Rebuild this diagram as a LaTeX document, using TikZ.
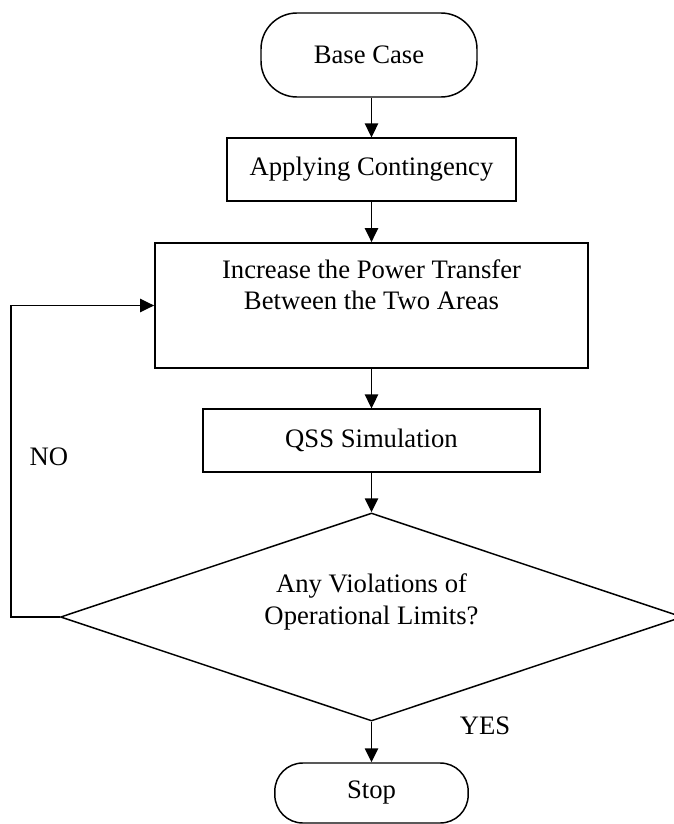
\documentclass[tikz,border=0pt]{standalone}
\usepackage{fontspec}
\setmainfont{Liberation Serif}
\usetikzlibrary{arrows.meta,shapes.geometric}

\begin{document}
\begin{tikzpicture}[x=0.75pt,y=0.75pt,yscale=-1,xscale=1,
  every node/.style={font=\fontsize{20}{23.5}\selectfont},
  box/.style={draw,line width=1.1pt,inner sep=0pt},
  term/.style={box,rounded corners=#1},
  cond/.style={box,diamond},
  flow/.style={line width=1.1pt,-{Triangle[length=10.5pt,width=10pt]}}]
\useasboundingbox (0,0) rectangle (674,824);
\clip (0,0) rectangle (674,824);

%Shape: Terminal
\node [term=27pt,minimum width=162pt,minimum height=63pt] (base) at (369,55) {Base Case};
%Shape: Rectangle
\node [box,minimum width=217pt,minimum height=47pt] (apply) at (371.5,169.5) {Applying Contingency};
%Shape: Rectangle
\node [box,minimum width=325pt,minimum height=94pt] (incr) at (371.5,305.5) {};
% Text Node
\node [align=center] (incrtxt) at (371.5,285) {Increase the Power Transfer\\Between the Two Areas};
%Shape: Rectangle
\node [box,minimum width=253pt,minimum height=47pt] (qss) at (371.5,440.5) {QSS Simulation};
%Shape: Diamond
\node [cond,minimum width=466.5pt,minimum height=156pt] (dec) at (371.5,617) {};
% Text Node
\node [align=center] (dectxt) at (371.5,602) {Any Violations of\\Operational Limits?};
%Shape: Terminal
\node [term=21pt,minimum width=145pt,minimum height=45pt] (stop) at (371.5,793) {Stop};

% Text Node
\node (no) at (49,457) {NO};
% Text Node
\node (yes) at (485,726) {YES};

%Straight Lines
\draw [flow] (base.south -| apply.north) -- (apply.north);
\draw [flow] (apply) -- (incr);
\draw [flow] (incr) -- (qss);
\draw [flow] (qss) -- (dec.north);
\draw [flow] (dec.south) -- (stop);
%Loop back
\coordinate (bend) at (11,617);
\draw [flow] (dec.west) -- (bend) |- (incr.west);

\end{tikzpicture}
\end{document}
